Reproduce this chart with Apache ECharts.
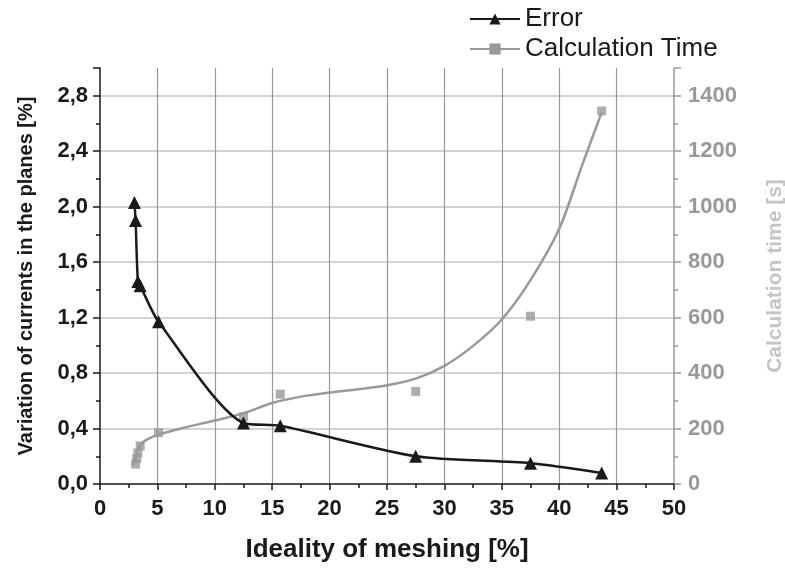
<!DOCTYPE html>
<html>
<head>
<meta charset="utf-8">
<script src="https://cdn.jsdelivr.net/npm/echarts@6/dist/echarts.min.js"></script>
<style>
  html, body { margin: 0; padding: 0; background: #fff; }
  #charts { width: 785px; height: 569px; }
</style>
</head>
<body>
<div id="charts"></div>
<script>
// Error: variation of currents [%] vs ideality of meshing [%]
const errorPoints = [
  [3.0, 2.03], [3.1, 1.90], [3.3, 1.46], [3.5, 1.43], [5.1, 1.17],
  [12.5, 0.44], [15.7, 0.42], [27.5, 0.20], [37.5, 0.15], [43.7, 0.08]
];
// Calculation time [s], measured points
const timePoints = [
  [3.1, 72], [3.2, 92], [3.3, 112], [3.5, 137], [5.1, 185],
  [12.5, 243], [15.7, 324], [27.5, 334], [37.5, 605], [43.7, 1345]
];
// Calculation time, fitted curve
const timeCurve = [
  [2.9, 68], [3.1, 95], [3.3, 122], [3.5, 140], [4, 158], [5, 177],
  [7.5, 205], [10, 229], [12.5, 255], [15, 292], [17.5, 315], [20, 330],
  [22.5, 342], [25, 356], [27.5, 380], [30, 426], [32.5, 498], [35, 593],
  [37.5, 735], [40, 920], [42, 1150], [43.7, 1340]
];

const font = "'Liberation Sans', Arial, sans-serif";
const black = "#1a1a1a";
const gray = "#999999";

const myChart = echarts.init(document.getElementById("charts"));
const option = {
  animation: false,
  textStyle: { fontFamily: font },
  legend: {
    orient: "vertical",
    left: 464,
    top: 1,
    itemWidth: 50,
    itemHeight: 14,
    itemGap: 4,
    data: ["Error", "Calculation Time"],
    textStyle: { fontSize: 26, color: black, fontFamily: font }
  },
  grid: {
    left: 100,
    right: 111,
    top: 68,
    bottom: 85,
    containLabel: false,
    outerBoundsMode: "none"
  },
  xAxis: {
    type: "value",
    min: 0,
    max: 50,
    interval: 5,
    name: "Ideality of meshing [%]",
    nameLocation: "middle",
    nameGap: 66,
    nameMoveOverlap: false,
    nameTextStyle: { fontSize: 26, fontWeight: "bold", color: black, verticalAlign: "middle" },
    axisLine: { onZero: false, lineStyle: { color: black, width: 1.5 } },
    axisTick: { show: true, length: 6, lineStyle: { color: black, width: 1.5 } },
    minorTick: { show: true, splitNumber: 2, length: 4, lineStyle: { color: black, width: 1.5 } },
    axisLabel: { fontSize: 22, fontWeight: "bold", color: black, margin: 14 },
    splitLine: { show: true, showMinLine: false, showMaxLine: false, lineStyle: { color: "#999", width: 1.2 } }
  },
  yAxis: [
    {
      type: "value",
      position: "left",
      min: 0,
      max: 3.0,
      interval: 0.4,
      name: "Variation of currents in the planes [%]",
      nameLocation: "middle",
      nameRotate: 90,
      nameGap: 64,
      nameMoveOverlap: false,
      nameTextStyle: { fontSize: 20, fontWeight: "bold", color: black },
      axisLine: { show: true, lineStyle: { color: black, width: 1.5 } },
      axisTick: { show: true, length: 7, lineStyle: { color: black, width: 1.5 } },
      minorTick: { show: true, splitNumber: 2, length: 4, lineStyle: { color: black, width: 1.5 } },
      axisLabel: {
        fontSize: 22,
        fontWeight: "bold",
        color: black,
        margin: 12,
        showMaxLabel: false,
        formatter: function (v) { return v.toFixed(1).replace(".", ","); }
      },
      splitLine: { show: true, showMinLine: false, showMaxLine: false, lineStyle: { color: "#c4c4c4", width: 1.5 } }
    },
    {
      type: "value",
      position: "right",
      min: 0,
      max: 1500,
      interval: 200,
      name: "Calculation time [s]",
      nameLocation: "middle",
      nameRotate: 90,
      nameGap: 91,
      nameMoveOverlap: false,
      nameTextStyle: { fontSize: 21, fontWeight: "bold", color: "#c4c4c4" },
      axisLine: { show: true, lineStyle: { color: gray, width: 1.5 } },
      axisTick: { show: true, length: 7, lineStyle: { color: gray, width: 1.5 } },
      minorTick: { show: true, splitNumber: 2, length: 4, lineStyle: { color: gray, width: 1.5 } },
      axisLabel: {
        fontSize: 22,
        fontWeight: "bold",
        color: gray,
        margin: 14,
        showMaxLabel: false,
        formatter: function (v) { return String(v); }
      },
      splitLine: { show: false }
    }
  ],
  series: [
    {
      name: "Error",
      type: "line",
      yAxisIndex: 0,
      data: errorPoints,
      smooth: 0.25,
      symbol: "triangle",
      symbolSize: 13,
      itemStyle: { color: black },
      lineStyle: { color: black, width: 2.5 },
      z: 3
    },
    {
      name: "Calculation Time",
      type: "line",
      yAxisIndex: 1,
      data: timeCurve,
      smooth: 0.3,
      symbol: "rect",
      symbolSize: 8,
      showSymbol: false,
      itemStyle: { color: gray },
      lineStyle: { color: gray, width: 2.5 },
      z: 2
    },
    {
      name: "Calculation Time",
      type: "scatter",
      yAxisIndex: 1,
      data: timePoints,
      symbol: "rect",
      symbolSize: 9,
      itemStyle: { color: gray },
      z: 2
    }
  ]
};
option && myChart.setOption(option);
</script>
</body>
</html>
